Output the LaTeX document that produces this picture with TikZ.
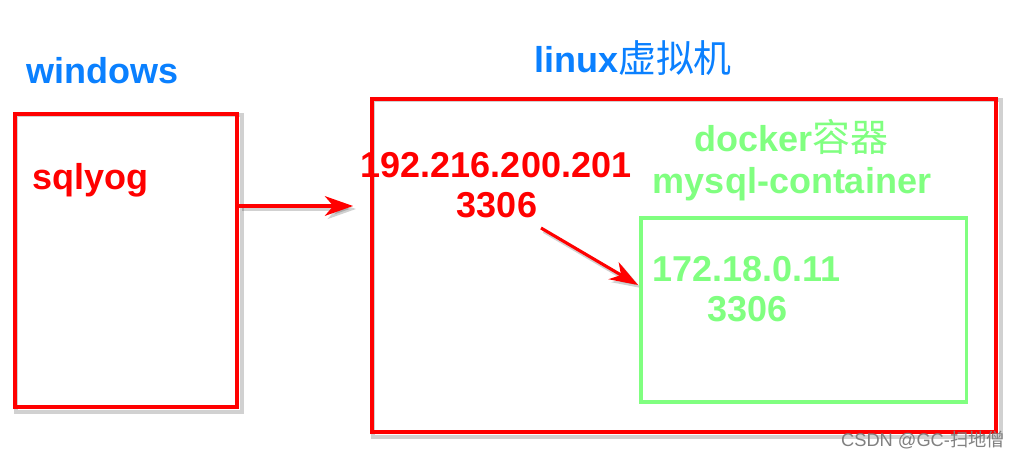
\documentclass[tikz,border=0pt]{standalone}
\usepackage{fontspec}
\setmainfont{Liberation Sans}
\newfontfamily\cjk{Noto Sans CJK SC}
\usetikzlibrary{arrows.meta,backgrounds}

\definecolor{boxred}{RGB}{255,0,0}
\definecolor{osblue}{RGB}{10,128,255}
\definecolor{dockgreen}{RGB}{128,255,128}

\newcommand{\hanzi}[1]{{\fontsize{27}{30}\selectfont\cjk\mdseries #1}}

\tikzset{
  hostbox/.style={draw=boxred, line width=2.4pt, inner sep=0pt},
  dockbox/.style={draw=dockgreen, line width=2.2pt, inner sep=0pt},
  boxshade/.style={draw=black, opacity=0.18, line width=3pt},
  label/.style={inner sep=0pt, anchor=base, font=\fontsize{25.6}{30}\selectfont\bfseries},
  link/.style={draw=boxred, line width=2.2pt, -{Stealth[length=20pt, width=14pt, inset=6pt]}},
  linkshade/.style={draw=black, opacity=0.18, line width=3pt, -{Stealth[length=20pt, width=14pt, inset=6pt]}},
}

\begin{document}
\begin{tikzpicture}[x=0.025cm, y=-0.025cm]
  \useasboundingbox (0,0) rectangle (1019,458);

  % Windows host
  \node[hostbox, minimum width=5.55cm, minimum height=7.325cm] (win) at (126,260.5) {};
  \node[label, text=osblue] (wintitle) at (102,84) {windows};
  \node[label, text=boxred] (client) at (90.5,190) {sqlyog};

  % Linux virtual machine
  \node[hostbox, minimum width=15.6cm, minimum height=8.325cm] (vm) at (684,265.5) {};
  \node[label, text=osblue] (vmtitle) at (633,73) {linux\hanzi{虚拟机}};
  \node[label, text=boxred] (hostip) at (496,178) {192.216.200.201};
  \node[label, text=boxred] (hostport) at (497,218) {3306};

  % Docker container
  \node[dockbox, minimum width=8.125cm, minimum height=4.6cm] (ctr) at (803.5,310) {};
  \node[label, text=dockgreen] (ctrtitle) at (791,152) {docker\hanzi{容器}};
  \node[label, text=dockgreen] (ctrname) at (792,194) {mysql-container};
  \node[label, text=dockgreen] (ctrip) at (746.5,282) {172.18.0.11};
  \node[label, text=dockgreen] (ctrport) at (747.5,322) {3306};

  % Arrow ends
  \coordinate (vmin) at (353,206);
  \coordinate (portout) at (541,228);
  \coordinate (portin) at (638,285);

  % Arrows
  \draw[link] (win.east |- vmin) -- (vmin);
  \draw[link] (portout) -- (portin);

  % Shadows
  \begin{scope}[on background layer]
    \draw[boxshade] ([shift={(3,3)}]win.north west) rectangle ([shift={(3,3)}]win.south east);
    \draw[boxshade] ([shift={(3,3)}]vm.north west) rectangle ([shift={(3,3)}]vm.south east);
    \draw[linkshade] ([shift={(3,3)}]win.east |- vmin) -- ([shift={(3,3)}]vmin);
    \draw[linkshade] ([shift={(3,3)}]portout) -- ([shift={(3,3)}]portin);
  \end{scope}

  % Watermark
  \node[inner sep=0pt, anchor=base, text=gray, font=\fontsize{13}{15}\selectfont] (mark) at (923,446) {CSDN @GC-{\cjk 扫地僧}};
\end{tikzpicture}
\end{document}
